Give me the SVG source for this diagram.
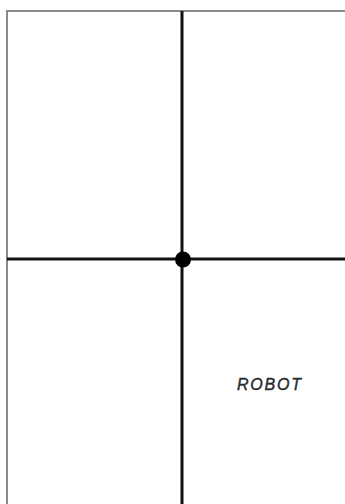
<svg xmlns="http://www.w3.org/2000/svg" width="345" height="504" viewBox="0 0 345 504">
<style>
.border{stroke:#8a8a8a;stroke-width:2;fill:none}
.axis{stroke:#111;stroke-width:3;fill:none}
.lbl{font-family:"Liberation Sans",Arial,sans-serif;font-style:italic;font-size:16px;letter-spacing:1.8px;fill:#2a2a2a;stroke:#2a2a2a;stroke-width:0.4}
</style>
<rect width="345" height="504" fill="#fff"/>
<g id="frame">
<path class="border" d="M7 504 V11 H345"/>
</g>
<g id="connectors">
<line class="axis" x1="182" y1="11" x2="182" y2="504"/>
<line class="axis" x1="7" y1="259" x2="345" y2="259"/>
</g>
<g id="origin">
<circle cx="183" cy="259.5" r="8" fill="#000"/>
</g>
<g id="robot">
<text class="lbl" x="237" y="390">ROBOT</text>
</g>
</svg>
